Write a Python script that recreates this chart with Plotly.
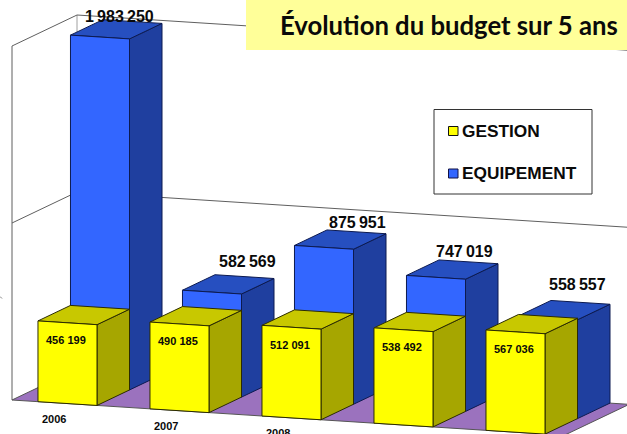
import plotly.graph_objects as go

# ---- data ----
YEARS = ["2006", "2007", "2008", "2009", "2010"]
GESTION = [456199, 490185, 512091, 538492, 567036]
EQUIPEMENT = [1983250, 582569, 875951, 747019, 558557]
GESTION_LABELS = ["456 199", "490 185", "512 091", "538 492", "567 036"]
EQUIPEMENT_LABELS = ["1 983 250", "582 569", "875 951", "747 019", "558 557"]
SERIES_NAMES = ["GESTION", "EQUIPEMENT"]
TITLE = "Évolution du budget sur 5 ans"
AXIS_MAX = 2000000
GRID_STEP = 1000000

# ---- oblique projection (category, depth, value) -> page pixels ----
X0, Y0 = 12.0, 400.0
CAT_W, CAT_DROP = 112.0, 7.17
DEPTH_X, DEPTH_Y = 32.5, -15.5
PX_PER_UNIT = 177e-6
BAR_START, BAR_END = 0.232, 0.759
U_END = 4.93


def proj(u, d, v):
    return (X0 + CAT_W * u + DEPTH_X * d,
            Y0 + CAT_DROP * u + DEPTH_Y * d - PX_PER_UNIT * v)


fig = go.Figure()


def poly(points, fill, line, width=1.0):
    xs = [p[0] for p in points] + [points[0][0]]
    ys = [p[1] for p in points] + [points[0][1]]
    fig.add_trace(go.Scatter(x=xs, y=ys, mode="lines", fill="toself", fillcolor=fill,
                             line=dict(color=line, width=width), hoverinfo="skip",
                             showlegend=False))


def polyline(points, color, width=1.0):
    fig.add_trace(go.Scatter(x=[p[0] for p in points], y=[p[1] for p in points], mode="lines",
                             line=dict(color=color, width=width), hoverinfo="skip",
                             showlegend=False))


def bar(i, d, v, front, side, top, edge):
    a, b = i + BAR_START, i + BAR_END
    poly([proj(b, d, 0), proj(b, d + 1, 0), proj(b, d + 1, v), proj(b, d, v)], side, edge)
    poly([proj(a, d, v), proj(b, d, v), proj(b, d + 1, v), proj(a, d + 1, v)], top, edge)
    poly([proj(a, d, 0), proj(b, d, 0), proj(b, d, v), proj(a, d, v)], front, edge)


# walls and gridlines
WALL = "#5f5f5f"
polyline([proj(0, 0, 0), proj(0, 0, AXIS_MAX)], WALL)
polyline([proj(0, 2, 0), proj(0, 2, AXIS_MAX)], "#a0a0a0")
for v in range(GRID_STEP, AXIS_MAX + 1, GRID_STEP):
    polyline([proj(0, 0, v), proj(0, 2, v), proj(U_END, 2, v)], WALL)

# floor
poly([proj(0, 0, 0), proj(0, 2, 0), proj(U_END, 2, 0), proj(U_END, 0, 0)], "#9b72be", "#555555")

for i, v in enumerate(EQUIPEMENT):
    bar(i, 1, v, "#3366ff", "#1f3f9f", "#264fc0", "#0c1a50")
for i, v in enumerate(GESTION):
    bar(i, 0, v, "#ffff00", "#a6a600", "#c8c800", "#2b2b00")

annotations = []


def text(x, y, s, size, family="Liberation Sans", anchor="center", bold=True):
    annotations.append(dict(x=x, y=y, text=f"<b>{s}</b>" if bold else s, showarrow=False,
                            xanchor=anchor, yanchor="middle", xref="x", yref="y",
                            font=dict(family=family, size=size, color="#0a0a0a")))


# value labels (hand-placed in the original, hence the per-label nudges)
BLUE_NUDGE = [(3.5, 2), (19, -8), (17.7, -2), (12, -3), (13, -11)]
for i, (v, s) in enumerate(zip(EQUIPEMENT, EQUIPEMENT_LABELS)):
    x, y = proj(i + (BAR_START + BAR_END) / 2, 1.5, v)
    dx, dy = BLUE_NUDGE[i]
    text(x + dx, y - 15 + dy, s.replace(" ", "\u2009"), 16)
for i, (v, s) in enumerate(zip(GESTION, GESTION_LABELS)):
    x, y = proj(i + (BAR_START + BAR_END) / 2, 0, v)
    text(x - 1.5, y + 17.5, s.replace(" ", "\u00a0"), 11)
for i, s in enumerate(YEARS):
    x, y = proj(i + 0.375, 0, 0)
    text(x, y + 16, s, 11)

# title band and legend box
shapes = [
    dict(type="rect", xref="x", yref="y", x0=246, x1=627, y0=0, y1=50, layer="above",
         fillcolor="#ffff99", line=dict(width=0)),
    dict(type="rect", xref="x", yref="y", x0=434, x1=592, y0=109.5, y1=194, layer="above",
         fillcolor="#ffffff", line=dict(color="#333333", width=1)),
    dict(type="rect", xref="x", yref="y", x0=448.5, x1=458, y0=126.5, y1=135.5, layer="above",
         fillcolor="#ffff00", line=dict(color="#111111", width=1)),
    dict(type="rect", xref="x", yref="y", x0=448.5, x1=458, y0=169, y1=178, layer="above",
         fillcolor="#3366ff", line=dict(color="#111144", width=1)),
    dict(type="line", xref="x", yref="y", x0=0, x1=2, y0=296.5, y1=298.5, layer="below",
         line=dict(color="#808080", width=1)),
]
text(620, 25, TITLE, 25.7, family="Lato", anchor="right")
text(460, 131, SERIES_NAMES[0], 17.3, anchor="left")
text(460, 173, SERIES_NAMES[1], 17.3, anchor="left")

fig.update_layout(
    width=627, height=434, margin=dict(l=0, r=0, t=0, b=0), autosize=False,
    paper_bgcolor="#ffffff", plot_bgcolor="#ffffff", showlegend=False,
    xaxis=dict(range=[0, 627], visible=False, fixedrange=True),
    yaxis=dict(range=[434, 0], visible=False, fixedrange=True),
    shapes=shapes, annotations=annotations,
)
fig.write_html("out.html", config={"displayModeBar": False},
               post_script="document.body.style.margin='0';")
